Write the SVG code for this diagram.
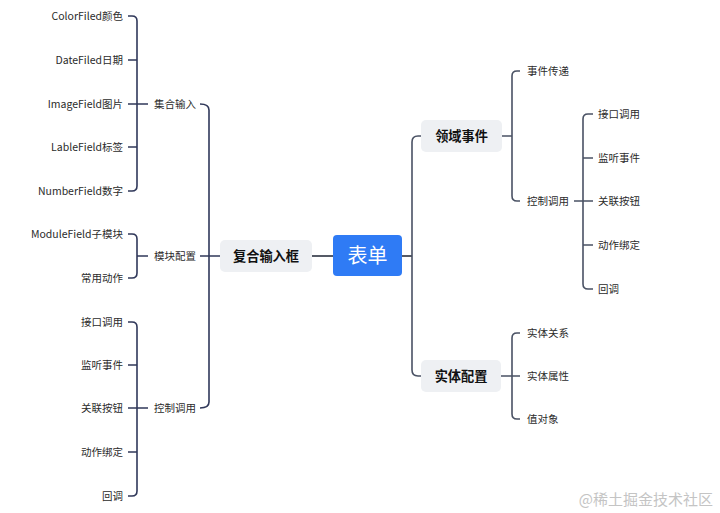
<svg xmlns="http://www.w3.org/2000/svg" width="720" height="513" viewBox="0 0 720 513">
<style>
text{font-family:"Noto Sans CJK SC","Noto Sans",sans-serif;fill:#2b2b2b}
.leaf{font-size:10.5px}
.end{text-anchor:end}
.mid{font-size:13.2px;font-weight:bold;text-anchor:middle;fill:#111}
.box{fill:#eef0f3}
.l{fill:none;stroke:#30385a;stroke-width:1.6}
.r{fill:none;stroke:#4a5264;stroke-width:1.6}
.c{fill:none;stroke:#555a66;stroke-width:2}
</style>
<rect width="720" height="513" fill="#fff"/>
<g id="connectors">
<path class="c" d="M312,256 H333 M402,256 H412"/>
<path class="l" d="M200,104 Q209,104 209,110 V402 Q209,408 200,408 M200,256 H220"/>
<path class="l" d="M128,16 H132 Q137,16 137,21 V186 Q137,191 132,191 H128 M128,60 H137 M128,104 H148 M128,147 H137"/>
<path class="l" d="M128,234 H132 Q137,234 137,239 V273 Q137,278 132,278 H128 M137,256 H148"/>
<path class="l" d="M128,322 H132 Q137,322 137,327 V491 Q137,496 132,496 H128 M128,365 H137 M128,408 H148 M128,452 H137"/>
<path class="r" d="M421,136 H418 Q412,136 412,142 V370 Q412,376 418,376 H421"/>
<path class="r" d="M502,136 H512 M520,71 H517 Q512,71 512,76 V196 Q512,201 517,201 H520"/>
<path class="r" d="M574,201 H593 M593,114 H588 Q583,114 583,119 V284 Q583,289 588,289 H593 M583,158 H593 M583,245 H593"/>
<path class="r" d="M501,376 H520 M520,333 H517 Q512,333 512,338 V414 Q512,419 517,419 H520"/>
</g>
<g id="root"><rect x="333" y="235" width="69" height="41" rx="4" fill="#2f7bf5"/><text x="367.5" y="263" style="font-size:20px;text-anchor:middle;fill:#fff">表单</text></g>
<g id="n-fuhe"><rect class="box" x="220" y="240" width="92" height="32" rx="5"/><text class="mid" x="266" y="261">复合输入框</text></g>
<g id="n-lingyu"><rect class="box" x="421" y="120" width="81" height="32" rx="5"/><text class="mid" x="461.5" y="141">领域事件</text></g>
<g id="n-shiti"><rect class="box" x="421" y="360" width="80" height="32" rx="5"/><text class="mid" x="461" y="381">实体配置</text></g>
<g id="n-jihe"><text class="leaf" x="154" y="108">集合输入</text></g>
<g id="n-mokuai"><text class="leaf" x="154" y="260">模块配置</text></g>
<g id="n-kongzhi-l"><text class="leaf" x="154" y="412">控制调用</text></g>
<g id="n-color"><text class="leaf end" x="123" y="20">ColorFiled颜色</text></g>
<g id="n-date"><text class="leaf end" x="123" y="64">DateFiled日期</text></g>
<g id="n-image"><text class="leaf end" x="123" y="108">ImageField图片</text></g>
<g id="n-lable"><text class="leaf end" x="123" y="151">LableField标签</text></g>
<g id="n-number"><text class="leaf end" x="123" y="195">NumberField数字</text></g>
<g id="n-module"><text class="leaf end" x="123" y="238">ModuleField子模块</text></g>
<g id="n-changyong"><text class="leaf end" x="123" y="282">常用动作</text></g>
<g id="n-l-jiekou"><text class="leaf end" x="123" y="326">接口调用</text></g>
<g id="n-l-jianting"><text class="leaf end" x="123" y="369">监听事件</text></g>
<g id="n-l-guanlian"><text class="leaf end" x="123" y="412">关联按钮</text></g>
<g id="n-l-dongzuo"><text class="leaf end" x="123" y="456">动作绑定</text></g>
<g id="n-l-huidiao"><text class="leaf end" x="123" y="500">回调</text></g>
<g id="n-shijian"><text class="leaf" x="527" y="75">事件传递</text></g>
<g id="n-kongzhi-r"><text class="leaf" x="527" y="205">控制调用</text></g>
<g id="n-r-jiekou"><text class="leaf" x="598" y="118">接口调用</text></g>
<g id="n-r-jianting"><text class="leaf" x="598" y="162">监听事件</text></g>
<g id="n-r-guanlian"><text class="leaf" x="598" y="205">关联按钮</text></g>
<g id="n-r-dongzuo"><text class="leaf" x="598" y="249">动作绑定</text></g>
<g id="n-r-huidiao"><text class="leaf" x="598" y="293">回调</text></g>
<g id="n-guanxi"><text class="leaf" x="527" y="337">实体关系</text></g>
<g id="n-shuxing"><text class="leaf" x="527" y="380">实体属性</text></g>
<g id="n-zhi"><text class="leaf" x="527" y="423">值对象</text></g>
<text x="713" y="505" style="font-size:15px;text-anchor:end;fill:#c4c4c4">@稀土掘金技术社区</text>
</svg>
